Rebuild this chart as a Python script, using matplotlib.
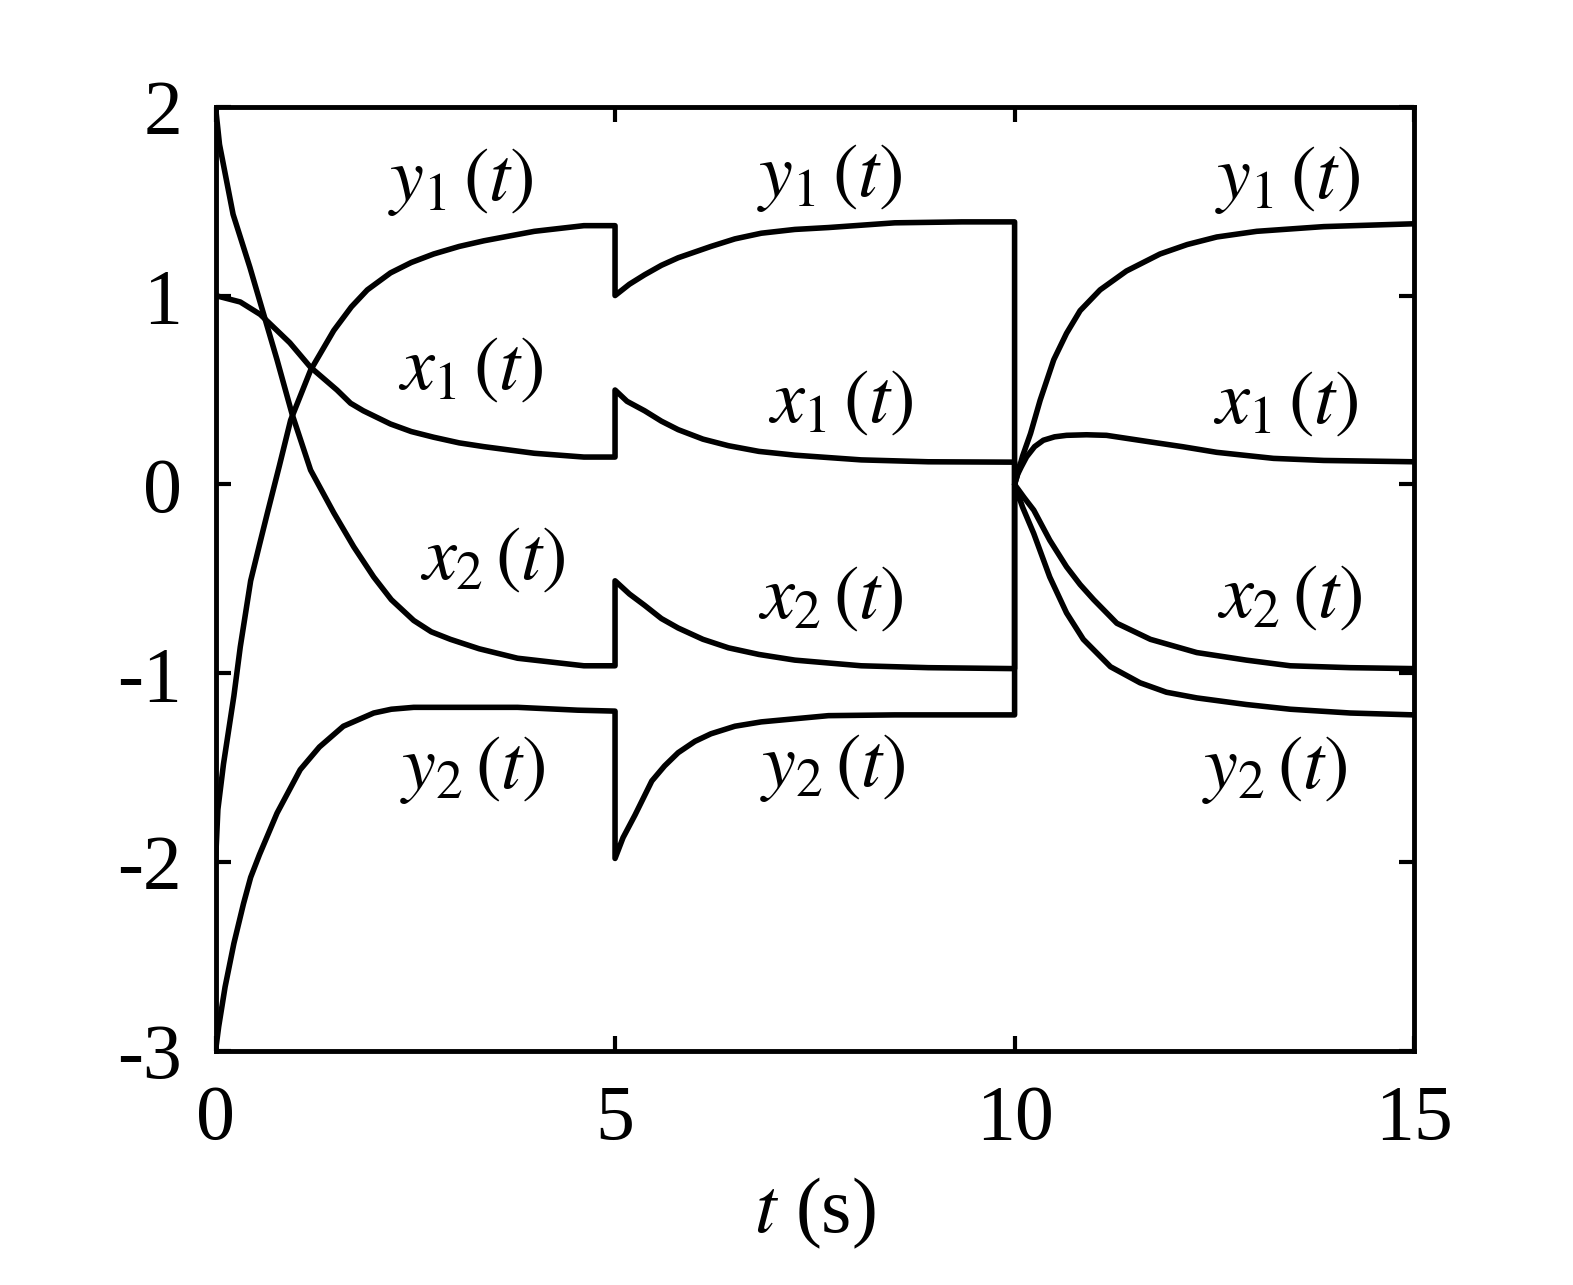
import matplotlib
matplotlib.use('Agg')
import matplotlib.pyplot as plt
import numpy as np

# values; repeated t = 5 and t = 10 give the jumps
t_x1 = [0, 0.31, 0.56, 0.93, 1.19, 1.52, 1.69, 1.85, 2.19, 2.45, 2.73, 3.05, 3.36, 3.99, 4.61, 5.0,
        5.0, 5.15, 5.37, 5.58, 5.79, 6.1, 6.42, 6.8, 7.25, 8.08, 8.92, 10.0,
        10.0, 10.04, 10.08, 10.15, 10.25, 10.36, 10.5, 10.65, 10.9, 11.15, 11.7, 12.1, 12.53, 13.24, 13.87, 15.0]
x1 = [1.0, 0.966, 0.90, 0.75, 0.62, 0.50, 0.43, 0.39, 0.32, 0.28, 0.25, 0.22, 0.20, 0.165, 0.145, 0.145,
      0.50, 0.44, 0.39, 0.335, 0.29, 0.24, 0.205, 0.175, 0.155, 0.13, 0.12, 0.118,
      0.0, 0.055, 0.09, 0.146, 0.20, 0.234, 0.252, 0.26, 0.263, 0.26, 0.225, 0.20, 0.17, 0.138, 0.127, 0.12]

t_x2 = [0, 0.05, 0.22, 0.43, 0.60, 0.77, 0.96, 1.19, 1.48, 1.73, 1.98, 2.2, 2.48, 2.7, 2.94, 3.3, 3.78, 4.61, 5.0,
        5.0, 5.18, 5.37, 5.58, 5.79, 6.1, 6.42, 6.8, 7.25, 8.08, 8.92, 10.0,
        10.0, 10.12, 10.24, 10.44, 10.65, 10.82, 10.99, 11.28, 11.7, 12.28, 12.9, 13.45, 14.2, 15.0]
x2 = [2.0, 1.80, 1.43, 1.15, 0.905, 0.66, 0.37, 0.076, -0.15, -0.33, -0.49, -0.61, -0.72, -0.78, -0.82, -0.87, -0.92, -0.96, -0.96,
      -0.51, -0.58, -0.64, -0.71, -0.76, -0.82, -0.865, -0.90, -0.93, -0.96, -0.97, -0.975,
      0.0, -0.07, -0.136, -0.295, -0.436, -0.53, -0.61, -0.735, -0.82, -0.89, -0.93, -0.96, -0.97, -0.975]

t_y1 = [0, 0.03, 0.10, 0.23, 0.31, 0.44, 0.55, 0.65, 0.80, 0.94, 1.19, 1.48, 1.7, 1.9, 2.19, 2.45, 2.73, 3.05, 3.36, 3.99, 4.61, 5.0,
        5.0, 5.18, 5.37, 5.58, 5.79, 6.2, 6.5, 6.83, 7.25, 7.67, 8.5, 9.34, 10.0,
        10.0, 10.1, 10.2, 10.32, 10.49, 10.65, 10.82, 11.07, 11.4, 11.82, 12.16, 12.53, 13.03, 13.87, 15.0]
y1 = [-2.0, -1.72, -1.48, -1.12, -0.86, -0.51, -0.32, -0.15, 0.10, 0.34, 0.605, 0.815, 0.94, 1.03, 1.12, 1.175, 1.22, 1.26, 1.29, 1.34, 1.37, 1.37,
      1.0, 1.06, 1.11, 1.16, 1.20, 1.26, 1.30, 1.33, 1.35, 1.36, 1.385, 1.39, 1.39,
      0.0, 0.15, 0.27, 0.446, 0.66, 0.80, 0.92, 1.03, 1.13, 1.22, 1.27, 1.31, 1.34, 1.365, 1.38]

t_y2 = [0, 0.04, 0.12, 0.23, 0.35, 0.44, 0.55, 0.77, 1.06, 1.3, 1.6, 1.98, 2.2, 2.48, 3.78, 4.53, 5.0,
        5.0, 5.1, 5.25, 5.46, 5.62, 5.79, 6.0, 6.2, 6.5, 6.83, 7.67, 8.5, 10.0,
        10.0, 10.1, 10.24, 10.44, 10.65, 10.86, 11.2, 11.57, 11.9, 12.28, 12.9, 13.45, 14.2, 15.0]
y2 = [-3.0, -2.87, -2.66, -2.43, -2.22, -2.08, -1.96, -1.74, -1.51, -1.39, -1.28, -1.21, -1.19, -1.18, -1.18, -1.195, -1.2,
      -1.98, -1.87, -1.75, -1.57, -1.49, -1.42, -1.36, -1.32, -1.28, -1.257, -1.224, -1.22, -1.22,
      0.0, -0.12, -0.26, -0.49, -0.68, -0.82, -0.965, -1.05, -1.10, -1.13, -1.165, -1.19, -1.21, -1.22]

# curve names written on the plot
label_text = [r'$y_1\,(t)$', r'$x_1\,(t)$', r'$x_2\,(t)$', r'$y_2\,(t)$'] * 3
label_t = [3.07, 3.20, 3.47, 3.22,
           7.69, 7.83, 7.70, 7.73,
           13.42, 13.40, 13.44, 13.26]
label_y = [1.60, 0.605, -0.40, -1.51,
           1.62, 0.43, -0.605, -1.50,
           1.61, 0.425, -0.60, -1.51]

x_ticks = [0, 5, 10, 15]
y_ticks = [-3, -2, -1, 0, 1, 2]

plt.rcParams['font.family'] = ['Liberation Serif', 'DejaVu Serif']
plt.rcParams['mathtext.fontset'] = 'stix'
plt.rcParams['axes.unicode_minus'] = False

fig = plt.figure(figsize=(15.73, 12.85), dpi=100)
ax = fig.add_axes([0.137, 0.182, 0.762, 0.735])

for tt, vv in [(t_y1, y1), (t_x1, x1), (t_x2, x2), (t_y2, y2)]:
    ax.plot(tt, vv, color='black', linewidth=4.0, solid_joinstyle='round')

for s, tx, ty in zip(label_text, label_t, label_y):
    ax.text(tx, ty, s, fontsize=55, ha='center', va='center')

ax.set_xlim(0, 15)
ax.set_ylim(-3, 2)
ax.set_xticks(x_ticks)
ax.set_yticks(y_ticks)
ax.tick_params(direction='in', length=11, width=3, top=True, right=True,
               labelsize=56, pad=24)
for sp in ax.spines.values():
    sp.set_linewidth(3.5)

ax.set_xlabel(r'$t$ (s)', fontsize=56, labelpad=14)

fig.savefig('out.png', dpi=100, facecolor='white')
